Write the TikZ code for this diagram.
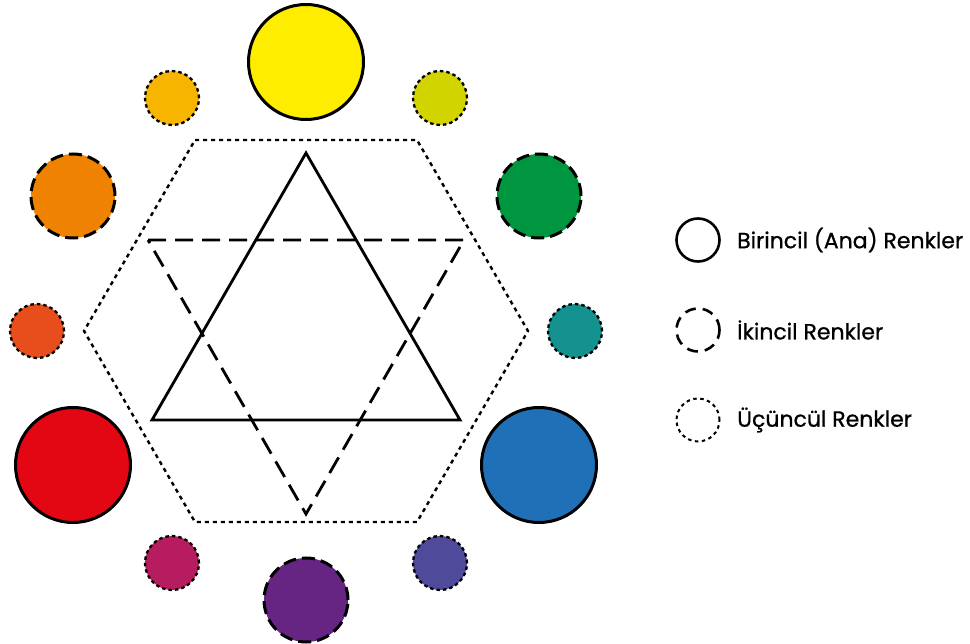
\documentclass[tikz,border=0pt]{standalone}
\usepackage{fontspec}
\setmainfont{Poppins}
\newfontfamily\legfont{Poppins}[FakeBold=0.8]
\definecolor{cY}{HTML}{FFED00}
\definecolor{cYO}{HTML}{F8B500}
\definecolor{cO}{HTML}{EF8200}
\definecolor{cRO}{HTML}{E84E1B}
\definecolor{cR}{HTML}{E30613}
\definecolor{cRV}{HTML}{B71C5E}
\definecolor{cV}{HTML}{662483}
\definecolor{cBV}{HTML}{4F4A9A}
\definecolor{cB}{HTML}{2070B8}
\definecolor{cBG}{HTML}{13928F}
\definecolor{cG}{HTML}{009640}
\definecolor{cYG}{HTML}{D2D400}
\tikzset{
  prim/.style={circle,draw=black,line width=3pt,minimum size=115pt,inner sep=0pt},
  sec/.style={circle,draw=black,line width=3pt,dash pattern=on 13pt off 6pt,minimum size=84pt,inner sep=0pt},
  ter/.style={circle,draw=black,line width=2.3pt,dash pattern=on 3.5pt off 3pt,minimum size=54pt,inner sep=0pt},
  legprim/.style={circle,draw=black,line width=2.6pt,minimum size=43pt,inner sep=0pt},
  legsec/.style={circle,draw=black,line width=2.6pt,dash pattern=on 11pt off 7pt,minimum size=43pt,inner sep=0pt},
  legter/.style={circle,draw=black,line width=2pt,dash pattern=on 3.5pt off 3.5pt,minimum size=43pt,inner sep=0pt},
  legtext/.style={anchor=west,font=\legfont\fontsize{22pt}{24pt}\selectfont,inner sep=0pt},
  hexline/.style={line width=2.4pt,dash pattern=on 4pt off 4pt},
  soltri/.style={line width=2.8pt,line join=miter},
  dashtri/.style={line width=2.8pt,dash pattern=on 18pt off 9pt,line join=miter}
}
\begin{document}
\begin{tikzpicture}[x=1pt,y=-1pt]
\useasboundingbox (0,0) rectangle (970,644);
\fill[white] (0,0) rectangle (970,644);
% hexagon
\coordinate (h1) at (195,140);
\coordinate (h2) at (417,140);
\coordinate (h3) at (528,331);
\coordinate (h4) at (417,522);
\coordinate (h5) at (195,522);
\coordinate (h6) at (84,331);
\draw[hexline] (h1) -- (h2) -- (h3) -- (h4) -- (h5) -- (h6) -- cycle;
% solid triangle
\coordinate (s1) at (306,153);
\coordinate (s2) at (460,420);
\coordinate (s3) at (152,420);
\draw[soltri] (s1) -- (s2) -- (s3) -- cycle;
% dashed triangle
\coordinate (d1) at (148,240);
\coordinate (d2) at (464,240);
\coordinate (d3) at (306,514);
\draw[dashtri] (d1) -- (d2) -- (d3) -- cycle;
% circles
\node[prim,fill=cY] (yellow) at (306,62) {};
\node[ter,fill=cYG] (yg) at (440,98) {};
\node[sec,fill=cG] (green) at (539,196) {};
\node[ter,fill=cBG] (bg) at (575,331) {};
\node[prim,fill=cB] (blue) at (539,465) {};
\node[ter,fill=cBV] (bv) at (440,563) {};
\node[sec,fill=cV] (violet) at (306,600) {};
\node[ter,fill=cRV] (rv) at (172,563) {};
\node[prim,fill=cR] (red) at (73,465) {};
\node[ter,fill=cRO] (ro) at (37,331) {};
\node[sec,fill=cO] (orange) at (73,196) {};
\node[ter,fill=cYO] (yo) at (172,98) {};
% legend
\node[legprim] (l1) at (698,240) {};
\node[legsec] (l2) at (698,330) {};
\node[legter] (l3) at (698,420) {};
\node[legtext] (t1) at (737,240) {Birincil (Ana) Renkler};
\node[legtext] (t2) at (737,330) {İkincil Renkler};
\node[legtext] (t3) at (737,420) {Üçüncül Renkler};
\end{tikzpicture}
\end{document}
